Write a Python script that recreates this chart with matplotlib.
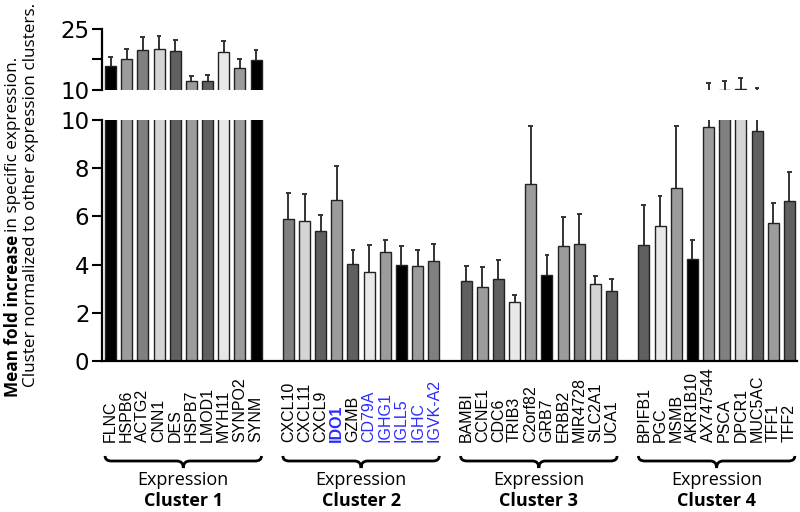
import numpy as np
import matplotlib
matplotlib.use('Agg')
import matplotlib.pyplot as plt
from matplotlib.path import Path
from matplotlib.patches import PathPatch
import matplotlib.transforms as mtransforms

# genes, mean fold increase and upper error per cluster
genes1 = ['FLNC', 'HSPB6', 'ACTG2', 'CNN1', 'DES', 'HSPB7', 'LMOD1', 'MYH11', 'SYNPO2', 'SYNM']
vals1 = [16.0, 17.6, 19.9, 20.2, 19.6, 12.3, 12.3, 19.3, 15.5, 17.3]
errs1 = [2.2, 2.5, 3.2, 3.0, 2.6, 1.2, 1.5, 2.7, 2.0, 2.5]

genes2 = ['CXCL10', 'CXCL11', 'CXCL9', 'IDO1', 'GZMB', 'CD79A', 'IGHG1', 'IGLL5', 'IGHC', 'IGVK-A2']
vals2 = [5.9, 5.82, 5.41, 6.69, 4.01, 3.68, 4.52, 3.97, 3.96, 4.14]
errs2 = [1.07, 1.1, 0.66, 1.4, 0.58, 1.15, 0.5, 0.82, 0.63, 0.73]

genes3 = ['BAMBI', 'CCNE1', 'CDC6', 'TRIB3', 'C2orf82', 'GRB7', 'ERBB2', 'MIR4728', 'SLC2A1', 'UCA1']
vals3 = [3.33, 3.06, 3.42, 2.46, 7.36, 3.57, 4.77, 4.84, 3.21, 2.9]
errs3 = [0.62, 0.84, 0.79, 0.28, 2.4, 0.83, 1.2, 1.25, 0.33, 0.5]

genes4 = ['BPIFB1', 'PGC', 'MSMB', 'AKR1B10', 'AX747544', 'PSCA', 'DPCR1', 'MUC5AC', 'TFF1', 'TFF2']
vals4 = [4.83, 5.6, 7.19, 4.24, 9.72, 10.1, 10.25, 9.56, 5.74, 6.65]
errs4 = [1.66, 1.25, 2.55, 0.79, 1.9, 2.1, 2.6, 0.85, 0.83, 1.18]

cluster_names = ['Cluster 1', 'Cluster 2', 'Cluster 3', 'Cluster 4']
blue_genes = ['IDO1', 'CD79A', 'IGHG1', 'IGLL5', 'IGHC', 'IGVK-A2']
bold_genes = ['IDO1']

# grey shades
K = '#000000'
GR = '#9c9c9c'
MD = '#808080'
LT = '#d4d4d4'
DK = '#606060'
VL = '#e8e8e8'
colors1 = [K, GR, MD, LT, DK, GR, DK, VL, GR, K]
colors2 = [MD, LT, DK, GR, DK, VL, GR, K, GR, MD]
colors3 = [DK, GR, DK, VL, GR, K, GR, MD, LT, DK]
colors4 = [DK, VL, GR, K, GR, MD, LT, DK, GR, DK]

genes = [genes1, genes2, genes3, genes4]
vals = [vals1, vals2, vals3, vals4]
errs = [errs1, errs2, errs3, errs4]
cols = [colors1, colors2, colors3, colors4]

fig = plt.figure(figsize=(8, 5.12), dpi=100)
ax_bot = fig.add_axes([0.1275, 0.2949, 0.8685, 0.4707])
ax_top = fig.add_axes([0.1275, 0.8242, 0.8685, 0.1192])

bw = 0.68
for c in range(4):
    x = np.arange(10) + c * 11
    v = np.array(vals[c])
    e = np.array(errs[c])
    for ax in (ax_bot, ax_top):
        ax.bar(x, v, width=bw, color=cols[c], edgecolor='#222222', linewidth=1.0, zorder=2)
        ax.vlines(x, v, v + e, color='#333333', linewidth=1.4, zorder=1)
        ax.hlines(v + e, x - 0.15, x + 0.15, color='#333333', linewidth=1.4, zorder=1)

for ax in (ax_bot, ax_top):
    ax.set_xlim(-0.53, 42.46)
    ax.spines['top'].set_visible(False)
    ax.spines['right'].set_visible(False)
    ax.spines['left'].set_linewidth(1.6)
    ax.tick_params(axis='y', length=7, width=1.5, labelsize=16.5, pad=2)
    ax.set_xticks([])

ax_bot.set_ylim(0, 10)
ax_bot.set_yticks([0, 2, 4, 6, 8, 10])
ax_bot.spines['bottom'].set_linewidth(1.6)

ax_top.set_ylim(10, 25)
ax_top.set_yticks([10, 25])
ax_top.set_yticks([17.5], minor=True)
ax_top.tick_params(axis='y', which='minor', length=7, width=1.5)
ax_top.spines['bottom'].set_visible(False)

# gene labels, bottom aligned
trans = mtransforms.blended_transform_factory(ax_bot.transData, fig.transFigure)
for c in range(4):
    for i, g in enumerate(genes[c]):
        col = '#2b2bff' if g in blue_genes else 'black'
        wt = 'bold' if g in bold_genes else 'normal'
        ax_bot.text(c * 11 + i, 0.1367, g, rotation=90, ha='center', va='bottom',
                    transform=trans, fontsize=11.5, family='Liberation Sans',
                    color=col, weight=wt, clip_on=False)

# braces
y_top, y_line, y_tip = 0.1094, 0.0996, 0.0859
d = 0.4
for c in range(4):
    x0 = c * 11 - bw / 2
    x1 = c * 11 + 9 + bw / 2
    xc = (x0 + x1) / 2
    verts = [(x0, y_top), (x0, y_line), (x0 + d, y_line),
             (xc - d, y_line),
             (xc, y_line), (xc, y_tip),
             (xc, y_line), (xc + d, y_line),
             (x1 - d, y_line),
             (x1, y_line), (x1, y_top)]
    codes = [Path.MOVETO, Path.CURVE3, Path.CURVE3,
             Path.LINETO,
             Path.CURVE3, Path.CURVE3,
             Path.CURVE3, Path.CURVE3,
             Path.LINETO,
             Path.CURVE3, Path.CURVE3]
    patch = PathPatch(Path(verts, codes), transform=trans, fill=False,
                      edgecolor='black', linewidth=2.0, clip_on=False)
    ax_bot.add_patch(patch)
    ax_bot.text(xc, 0.0625, 'Expression', transform=trans, ha='center', va='center',
                fontsize=13, family='Open Sans', clip_on=False)
    ax_bot.text(xc, 0.0215, cluster_names[c], transform=trans, ha='center', va='center',
                fontsize=13, family='Open Sans', weight='bold', clip_on=False)

# y label (two lines, first part bold)
fig.canvas.draw()
r = fig.canvas.get_renderer()
t1 = fig.text(0.016, 0.2246, 'Mean fold increase', rotation=90, rotation_mode='anchor',
              ha='left', va='center', fontsize=12.3, family='Open Sans', weight='bold')
h = t1.get_window_extent(r).height / fig.bbox.height
fig.text(0.016, 0.2246 + h + 0.006, 'in specific expression.', rotation=90, rotation_mode='anchor',
         ha='left', va='center', fontsize=12.3, family='Open Sans')
fig.text(0.039, 0.244, 'Cluster normalized to other expression clusters.', rotation=90,
         rotation_mode='anchor', ha='left', va='center', fontsize=12.3, family='Open Sans')

fig.savefig('out.png', dpi=100)
